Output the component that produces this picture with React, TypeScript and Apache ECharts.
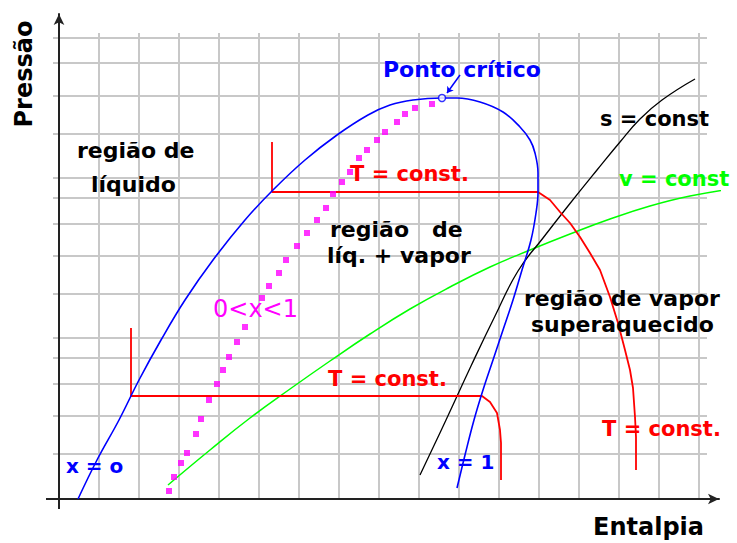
import React, { useEffect, useRef } from "react";
import * as echarts from "echarts";

// Grid positions (enthalpy units / pressure units)
const gridXs = [1, 2, 3, 4, 5, 6, 7, 8, 9, 10, 11, 12, 13, 14, 15, 16];
const gridYs = [4.5, 8.3, 11.5, 14.1, 16.1, 20.5, 24.3, 27.5, 30.1, 32.1, 36.5, 40.3, 43.6, 46.1];

// Saturation dome (x = 0 on the left, x = 1 on the right)
const domeCurve = [
  [0.475, 0], [0.95, 3.9], [1.5, 7.9], [2.0, 11.9], [2.55, 15.9], [3.15, 19.9],
  [3.85, 23.9], [4.65, 27.9], [5.35, 30.9], [6.15, 33.9], [6.95, 36.4], [7.725, 38.4],
  [8.275, 39.4], [8.85, 39.9], [9.575, 40.1], [9.95, 40.1],
  [10.525, 39.7], [11.1, 38.7], [11.525, 37.2], [11.775, 35.9], [11.9, 34.6],
  [11.975, 32.6], [11.975, 30.7], [11.925, 28.6], [11.8, 25.9], [11.575, 22.9],
  [11.35, 19.9], [11.1, 16.9], [10.85, 13.9], [10.6, 10.9], [10.375, 7.9],
  [10.15, 4.4], [9.95, 1.1],
];

// Constant quality line 0 < x < 1 (dotted)
const qualityDots = [
  [2.75, 0.8], [2.875, 2.2], [3.05, 3.6], [3.2, 4.6], [3.425, 6.5], [3.55, 8.0],
  [3.75, 9.9], [3.95, 11.5], [4.1, 12.9], [4.25, 14.2], [4.45, 15.7], [4.65, 17.2],
  [5.075, 20.1], [5.25, 21.3], [5.5, 22.6], [5.675, 23.9], [5.95, 25.3], [6.2, 26.6],
  [6.45, 27.9], [6.675, 29.1], [6.85, 30.5], [7.075, 31.7], [7.275, 32.7], [7.5, 34.1],
  [7.7, 34.9], [7.95, 35.9], [8.15, 36.7], [8.45, 37.7], [8.65, 38.5], [8.9, 39.1],
  [9.325, 39.5],
];

// Isotherms
const isothermHigh = [
  [5.325, 35.7], [5.325, 30.7], [11.975, 30.7], [12.275, 29.9], [12.525, 28.7],
  [12.775, 27.6], [13.025, 26.2], [13.275, 24.6], [13.525, 22.9], [13.775, 20.2],
  [13.975, 17.6], [14.15, 14.9], [14.275, 12.9], [14.35, 11.1], [14.4, 8.2],
  [14.425, 6.2], [14.425, 2.9],
];
const isothermLow = [
  [1.8, 17.1], [1.8, 10.3], [10.575, 10.3], [10.775, 9.7], [10.95, 8.6],
  [11.025, 6.9], [11.05, 5.6], [11.05, 1.9],
];

// Isentrope (s = const)
const isentrope = [
  [9.025, 2.4], [9.675, 7.9], [10.3, 13.3], [10.9, 18.3], [11.475, 22.8], [12.1, 26.1],
  [12.725, 29.3], [13.45, 32.9], [14.025, 35.7], [14.525, 38.0], [15.075, 39.9], [15.9, 42.0],
];

// Isochore (v = const)
const isochore = [
  [2.725, 1.4], [3.775, 4.9], [4.775, 8.1], [5.775, 11.0], [6.775, 13.8], [7.775, 16.5],
  [8.775, 19.0], [9.775, 21.2], [10.775, 23.2], [11.775, 24.9], [12.775, 26.5],
  [13.775, 28.0], [14.775, 29.3], [15.775, 30.3], [16.95, 31.1],
];

const criticalPoint = [[9.575, 40.1]];
const criticalArrow = [[10.025, 42.4], [9.7, 40.6]];

const FONT = '"DejaVu Sans", "Liberation Sans", Arial, sans-serif';

type Label = { text: string; x: number; y: number; color: string; size: number; weight?: string };
const labels: Label[] = [
  { text: "região de", x: 77, y: 150, color: "#000", size: 22 },
  { text: "líquido", x: 91, y: 184, color: "#000", size: 22 },
  { text: "Ponto crítico", x: 383, y: 69, color: "#0000ff", size: 22 },
  { text: "T = const.", x: 350, y: 174, color: "#ff0000", size: 21 },
  { text: "região\u00a0\u00a0\u00a0de", x: 330, y: 229, color: "#000", size: 22 },
  { text: "líq. + vapor", x: 327, y: 255, color: "#000", size: 22 },
  { text: "0<x<1", x: 213, y: 309, color: "#ff00ff", size: 24, weight: "normal" },
  { text: "s = const", x: 600, y: 119, color: "#000", size: 21 },
  { text: "v = const", x: 619, y: 179, color: "#00ff00", size: 21 },
  { text: "região de vapor", x: 524, y: 298, color: "#000", size: 22 },
  { text: "superaquecido", x: 531, y: 324, color: "#000", size: 22 },
  { text: "T = const.", x: 328, y: 379, color: "#ff0000", size: 21 },
  { text: "T = const.", x: 602, y: 429, color: "#ff0000", size: 21 },
  { text: "x = o", x: 66, y: 466, color: "#0000ff", size: 20 },
  { text: "x = 1", x: 437, y: 462, color: "#0000ff", size: 20 },
  { text: "Entalpia", x: 593, y: 527, color: "#000", size: 24 },
];

export default function App() {
  const ref = useRef<HTMLDivElement>(null);

  useEffect(() => {
    if (!ref.current) return;
    const chart = echarts.init(ref.current, undefined, { renderer: "svg" });

    const axisCommon = {
      type: "value" as const,
      axisTick: { show: false },
      axisLabel: { show: false },
      splitLine: { show: false },
      axisLine: {
        show: true,
        onZero: false,
        symbol: ["none", "arrow"],
        symbolSize: [8, 11],
        lineStyle: { color: "#222", width: 2 },
      },
      z: 5,
    };

    const graphics: any[] = labels.map((l) => ({
      type: "text",
      x: l.x,
      y: l.y,
      z: 100,
      style: {
        text: l.text,
        fill: l.color,
        fontFamily: FONT,
        fontSize: l.size,
        fontWeight: l.weight || "bold",
        align: "left",
        verticalAlign: "middle",
      },
    }));
    graphics.push({
      type: "text",
      x: 24,
      y: 74,
      rotation: Math.PI / 2,
      z: 100,
      style: {
        text: "Pressão",
        fill: "#000",
        fontFamily: FONT,
        fontSize: 24,
        fontWeight: "bold",
        align: "center",
        verticalAlign: "middle",
      },
    });
    // small axis overshoots
    graphics.push({
      type: "line",
      z: 50,
      shape: { x1: 59, y1: 498, x2: 59, y2: 509 },
      style: { stroke: "#222", lineWidth: 2 },
    });
    graphics.push({
      type: "line",
      z: 50,
      shape: { x1: 46, y1: 499, x2: 60, y2: 499 },
      style: { stroke: "#222", lineWidth: 2 },
    });

    const option: any = {
      animation: false,
      backgroundColor: "#ffffff",
      grid: { left: 59, right: 18, top: 14, bottom: 44 },
      xAxis: { ...axisCommon, min: 0, max: 16.5 },
      yAxis: { ...axisCommon, min: 0, max: 48.5 },
      graphic: graphics,
      series: [
        {
          type: "custom",
          z: 0,
          silent: true,
          clip: false,
          data: gridYs.map((y) => [0, y]),
          renderItem: (_p: any, api: any) => {
            const y = api.value(1);
            const a = api.coord([-0.15, y]);
            const b = api.coord([16.2, y]);
            return {
              type: "line",
              shape: { x1: a[0], y1: a[1], x2: b[0], y2: b[1] },
              style: { stroke: "#c8c8c8", lineWidth: 2 },
            };
          },
        },
        {
          type: "custom",
          z: 0,
          silent: true,
          clip: false,
          data: gridXs.map((x) => [x, 0]),
          renderItem: (_p: any, api: any) => {
            const x = api.value(0);
            const a = api.coord([x, 0]);
            const b = api.coord([x, 46.6]);
            return {
              type: "line",
              shape: { x1: a[0], y1: a[1], x2: b[0], y2: b[1] },
              style: { stroke: "#c8c8c8", lineWidth: 2 },
            };
          },
        },
        {
          type: "line",
          data: isochore,
          symbol: "none",
          smooth: 0.45,
          clip: false,
          z: 10,
          lineStyle: { color: "#00ff00", width: 1.5 },
        },
        {
          type: "line",
          data: isentrope,
          symbol: "none",
          smooth: 0.45,
          z: 10,
          lineStyle: { color: "#000000", width: 1.3 },
        },
        {
          type: "line",
          data: isothermHigh,
          symbol: "none",
          z: 11,
          lineStyle: { color: "#ff0000", width: 1.8 },
        },
        {
          type: "line",
          data: isothermLow,
          symbol: "none",
          z: 11,
          lineStyle: { color: "#ff0000", width: 1.8 },
        },
        {
          type: "line",
          data: domeCurve,
          symbol: "none",
          smooth: 0.4,
          z: 12,
          lineStyle: { color: "#0000ff", width: 1.6 },
        },
        {
          type: "scatter",
          data: qualityDots,
          symbol: "rect",
          symbolSize: 6,
          z: 13,
          itemStyle: { color: "#ff00ff" },
        },
        {
          type: "scatter",
          data: criticalPoint,
          symbol: "circle",
          symbolSize: 7,
          z: 14,
          itemStyle: { color: "#ffffff", borderColor: "#0000ff", borderWidth: 1.5 },
        },
        {
          type: "lines",
          coordinateSystem: "cartesian2d",
          z: 14,
          symbol: ["none", "arrow"],
          symbolSize: 6,
          lineStyle: { color: "#0000ff", width: 1.5, opacity: 1 },
          data: [{ coords: criticalArrow }],
        },
      ],
    };
    chart.setOption(option);
    return () => chart.dispose();
  }, []);

  return (
    <div
      ref={ref}
      style={{ position: "absolute", left: 0, top: 0, width: 737, height: 543, background: "#fff" }}
    />
  );
}
